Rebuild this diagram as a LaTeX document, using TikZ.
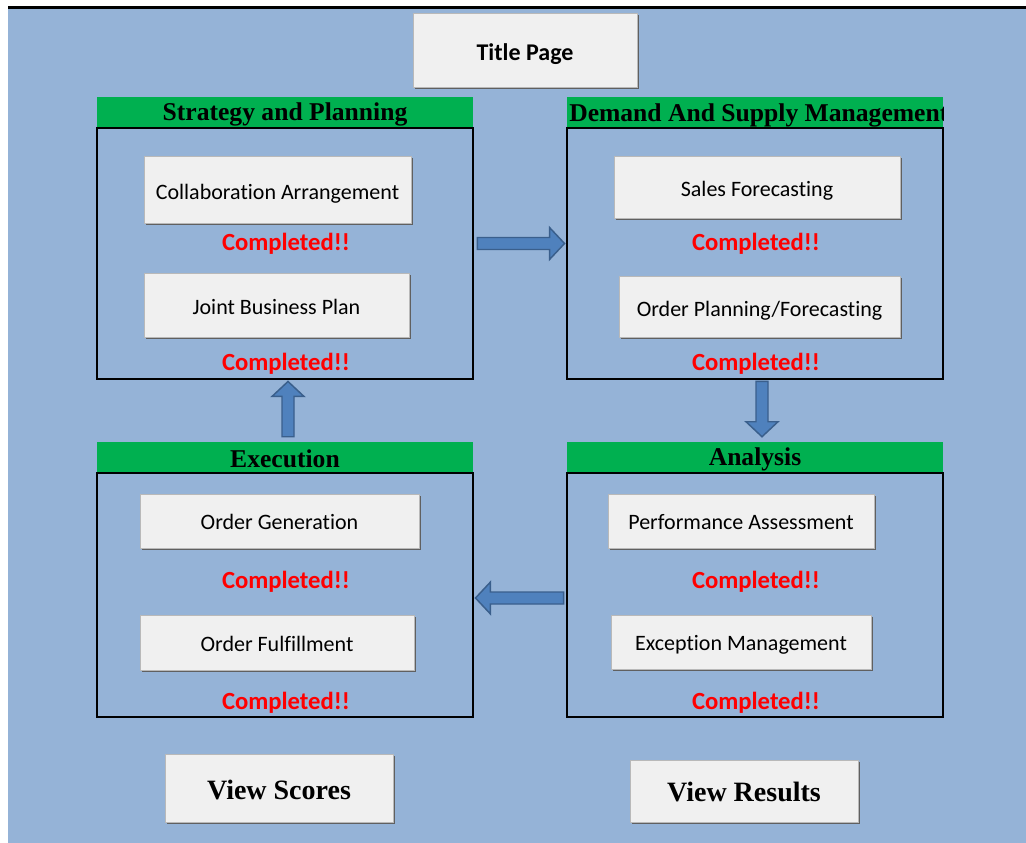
\documentclass[tikz,border=0pt]{standalone}
\usepackage{fontspec}
\setmainfont{Liberation Serif}
\newfontfamily\calfont[Ligatures={NoCommon,NoContextual}]{Carlito}
\usetikzlibrary{calc,shadows}
\definecolor{bg}{HTML}{95B3D7}
\definecolor{hdr}{HTML}{00B050}
\definecolor{btnf}{HTML}{F0F0F0}
\definecolor{arrf}{HTML}{4F81BD}
\definecolor{arrd}{HTML}{3A5F8C}
\definecolor{done}{HTML}{FF0000}
\newcommand\dn[2]{\raisebox{-#1pt}[\height][\depth]{#2}}
\newcommand\barrow[4]{% #1 start, #2 end, (#3,#4) unit direction
 \filldraw[barrowst] ($(#1)+({-6*(#4)},{6*(#3)})$)
  -- ($(#2)+({-15*(#3)-6*(#4)},{-15*(#4)+6*(#3)})$)
  -- ($(#2)+({-15*(#3)-16*(#4)},{-15*(#4)+16*(#3)})$)
  -- (#2)
  -- ($(#2)+({-15*(#3)+16*(#4)},{-15*(#4)-16*(#3)})$)
  -- ($(#2)+({-15*(#3)+6*(#4)},{-15*(#4)-6*(#3)})$)
  -- ($(#1)+({6*(#4)},{-6*(#3)})$) -- cycle;}
\begin{document}
\begin{tikzpicture}[x=0.75pt,y=-0.75pt,
 btn/.style={draw=gray!55, line width=0.6pt, fill=btnf, inner sep=0pt,
   font=\calfont\fontsize{16.5}{18}\selectfont,
   general shadow={fill=gray!75!black, shadow xshift=1.6pt, shadow yshift=-1.6pt}},
 bigbtn/.style={btn, font=\bfseries\fontsize{21}{24}\selectfont},
 hdrbox/.style={fill=hdr, inner sep=0pt, minimum width=376*0.75pt, minimum height=31*0.75pt},
 hdrtext/.style={font=\bfseries\fontsize{19.2}{22}\selectfont, inner sep=0pt},
 secbox/.style={draw=black, line width=2.2pt, inner sep=0pt, minimum width=376*0.75pt},
 donetext/.style={text=done, font=\calfont\bfseries\fontsize{18.5}{20}\selectfont, inner sep=0pt},
 barrowst/.style={fill=arrf, draw=arrd, line width=1.1pt, line join=miter}
]
\useasboundingbox (0,0) rectangle (1026,843);
\fill[white] (0,0) rectangle (1026,843);
\fill[bg] (8,8) rectangle (1026,843);
\draw[black, line width=2.4pt] (8,7.5) -- (1026,7.5);

% headers
\node[hdrbox] (sphdr) at (285,112.5) {};
\node[hdrbox] (dshdr) at (755,112.5) {};
\node[hdrbox] (exhdr) at (285,457.5) {};
\node[hdrbox] (anhdr) at (755,457.5) {};
\node[hdrtext] (sptxt) at (285,114) {Strategy and Planning};
\begin{scope}
 \clip (567,97) rectangle (943,128);
 \node[hdrtext, anchor=west] (dstxt) at (569,115) {Demand And Supply Management};
\end{scope}
\node[hdrtext] (extxt) at (285,459) {Execution};
\node[hdrtext] (antxt) at (755,459) {Analysis};

% section boxes
\node[secbox, minimum height=251*0.75pt] (spbox) at (285,253.5) {};
\node[secbox, minimum height=251*0.75pt] (dsbox) at (755,253.5) {};
\node[secbox, minimum height=244*0.75pt] (exbox) at (285,595) {};
\node[secbox, minimum height=244*0.75pt] (anbox) at (755,595) {};

% buttons
\node[btn, font=\calfont\bfseries\fontsize{18}{20}\selectfont, minimum width=224*0.75pt, minimum height=74*0.75pt] (title) at (525,50) {\dn{3}{Title Page}};
\node[btn, minimum width=267*0.75pt, minimum height=67*0.75pt] (collab) at (277.5,189.5) {\dn{3}{Collaboration Arrangement}};
\node[btn, minimum width=265*0.75pt, minimum height=64*0.75pt] (jbp) at (276.5,305) {\dn{1.5}{Joint Business Plan}};
\node[btn, minimum width=286*0.75pt, minimum height=62*0.75pt] (sales) at (757,187) {\dn{3}{Sales Forecasting}};
\node[btn, minimum width=281*0.75pt, minimum height=61*0.75pt] (opf) at (759.5,306.5) {\dn{3}{Order Planning/Forecasting}};
\node[btn, minimum width=279*0.75pt, minimum height=54*0.75pt] (ogen) at (279.5,521) {\dn{0.8}{Order Generation}};
\node[btn, minimum width=274*0.75pt, minimum height=55*0.75pt] (oful) at (277,642.5) {\dn{0.8}{Order Fulfillment}};
\node[btn, minimum width=266*0.75pt, minimum height=54*0.75pt] (perf) at (741,521) {\dn{0.8}{Performance Assessment}};
\node[btn, minimum width=260*0.75pt, minimum height=54*0.75pt] (excm) at (741,642) {\dn{2.2}{Exception Management}};
\node[bigbtn, minimum width=228*0.75pt, minimum height=68*0.75pt] (vscores) at (279,788) {\dn{1.5}{View Scores}};
\node[bigbtn, minimum width=228*0.75pt, minimum height=62*0.75pt] (vresults) at (744,791) {\dn{0.8}{View Results}};

% completed labels
\node[donetext] (c1) at (286,244) {Completed!!};
\node[donetext] (c2) at (286,364) {Completed!!};
\node[donetext] (c3) at (756,244) {Completed!!};
\node[donetext] (c4) at (756,364) {Completed!!};
\node[donetext] (c5) at (286,582) {Completed!!};
\node[donetext] (c6) at (286,703) {Completed!!};
\node[donetext] (c7) at (756,582) {Completed!!};
\node[donetext] (c8) at (756,703) {Completed!!};

% arrows
\coordinate (yr) at (0,243.5);
\coordinate (yl) at (0,598);
\coordinate (xu) at (288,0);
\coordinate (xd) at (762,0);
\coordinate (ra1) at ($(spbox.east |- yr)+(3,0)$);
\coordinate (ra2) at ($(dsbox.west |- yr)+(-1,0)$);
\coordinate (da1) at ($(dsbox.south -| xd)+(0,1)$);
\coordinate (da2) at ($(anhdr.north -| xd)+(0,-5)$);
\coordinate (la1) at ($(anbox.west |- yl)+(-2,0)$);
\coordinate (la2) at ($(exbox.east |- yl)+(1,0)$);
\coordinate (ua1) at ($(exhdr.north -| xu)+(0,-5)$);
\coordinate (ua2) at ($(spbox.south -| xu)+(0,1)$);
\barrow{ra1}{ra2}{1}{0}
\barrow{da1}{da2}{0}{1}
\barrow{la1}{la2}{-1}{0}
\barrow{ua1}{ua2}{0}{-1}
\end{tikzpicture}
\end{document}
